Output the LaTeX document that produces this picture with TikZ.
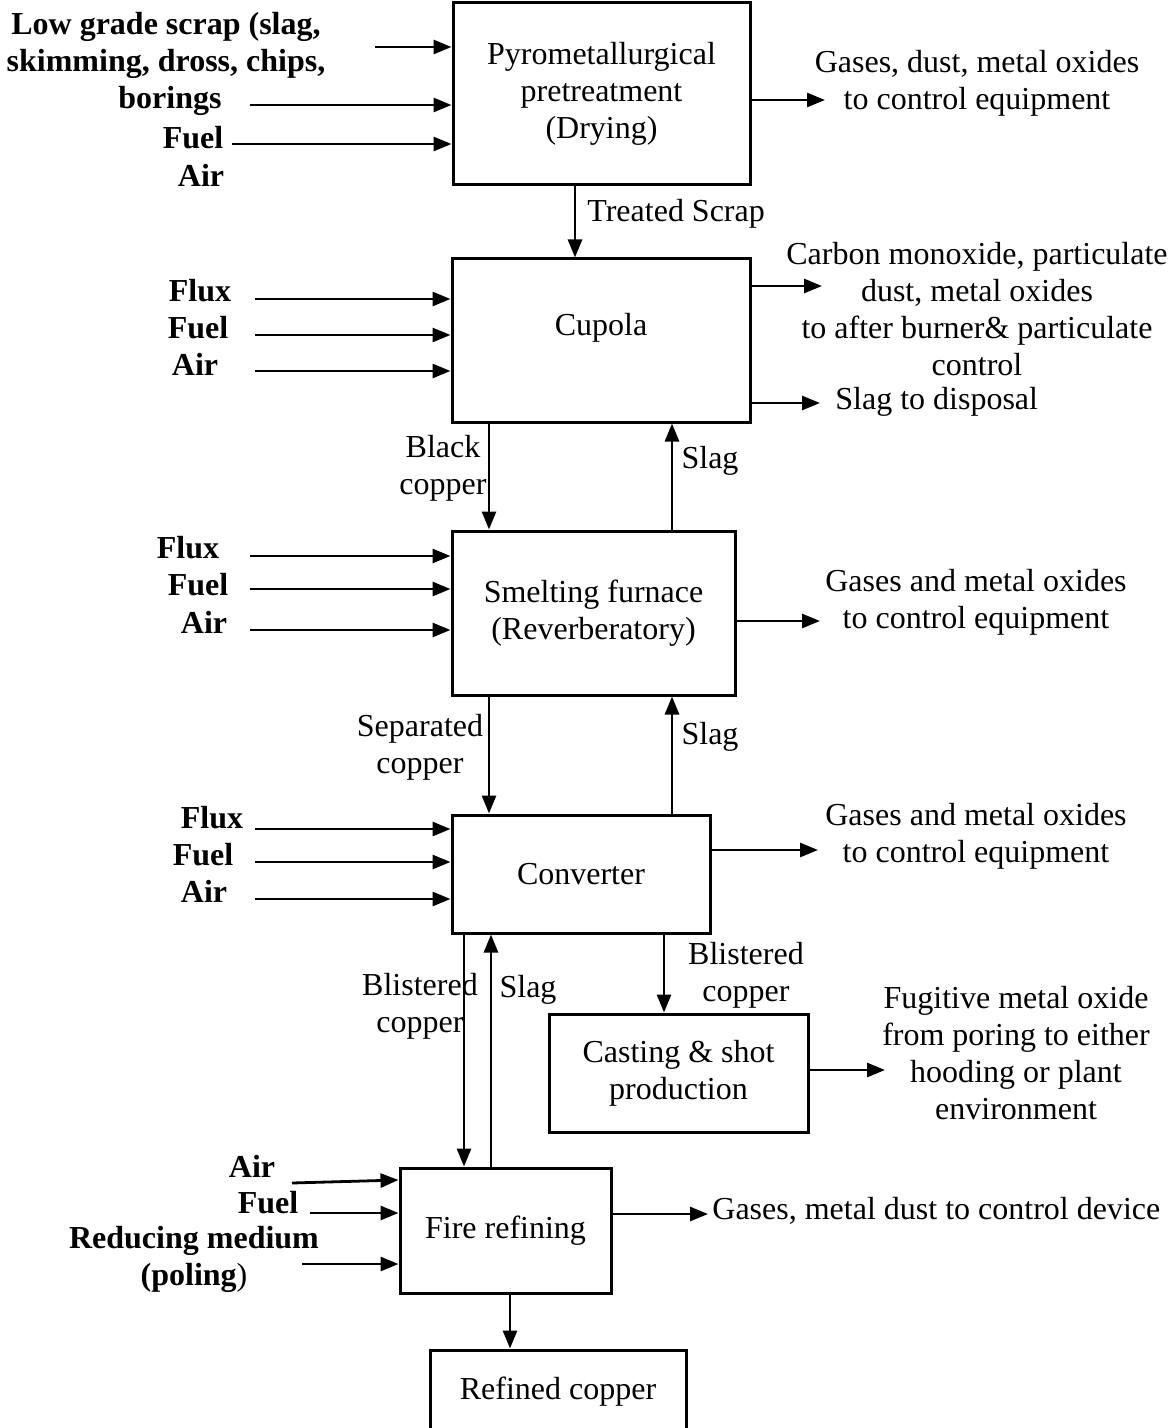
\documentclass[tikz,border=0pt]{standalone}
\usepackage{fontspec}
\setmainfont{Liberation Serif}
\usetikzlibrary{arrows.meta}
\begin{document}
\fontsize{16}{18.5}\selectfont
\begin{tikzpicture}[x=0.5pt,y=-0.5pt,
  box/.style={draw,line width=1.5pt,align=center,inner sep=0pt},
  lab/.style={align=center,inner sep=0pt},
  inlab/.style={lab,font=\bfseries},
  arr/.style={line width=1.4pt,-{Triangle[length=9pt,width=7pt]}}]
\useasboundingbox (0,0) rectangle (1170,1428);
\clip (0,0) rectangle (1170,1428);
\node[box,minimum width=148.5pt,minimum height=91pt] (pyro) at (601.5,94) {Pyrometallurgical\\pretreatment\\(Drying)};
\node[box,minimum width=149pt,minimum height=81.5pt] (cupola) at (601,340.5) {\raisebox{6.5pt}[\height][\depth]{Cupola}};
\node[box,minimum width=141.5pt,minimum height=82pt] (smelt) at (593.5,613) {Smelting furnace\\(Reverberatory)};
\node[box,minimum width=129pt,minimum height=59pt] (conv) at (581,874) {Converter};
\node[box,minimum width=129.5pt,minimum height=59pt] (cast) at (678.5,1073) {Casting \& shot\\production};
\node[box,minimum width=105.5pt,minimum height=62.5pt] (fire) at (505.5,1230.5) {Fire refining};
\node[box,minimum width=128pt,minimum height=42pt] (refined) at (558,1392) {Refined copper};

\node[inlab] (scrap) at (166,45) {Low grade scrap (slag,\\skimming, dross, chips,};
\node[inlab] (borings) at (170,101) {borings};
\node[inlab] (fuela) at (193,138) {Fuel};
\node[inlab] (aira) at (201,175) {Air};
\coordinate (sa) at (375,47);
\coordinate (sb) at (250,105);
\coordinate (sc) at (232,144);
\draw[arr] (sa) -- (sa -| pyro.west);
\draw[arr] (sb) -- (sb -| pyro.west);
\draw[arr] (sc) -- (sc -| pyro.west);
\node[lab] (outa) at (977,83) {Gases, dust, metal oxides\\to control equipment};
\coordinate (oa) at (825,100);
\draw[arr] (oa -| pyro.east) -- (oa);
\coordinate (ts) at (575,0);
\draw[arr] (ts |- pyro.south) -- (ts |- cupola.north);
\node[lab,anchor=west] (treated) at (587,214) {Treated Scrap};

\node[inlab] (fluxb) at (200,291) {Flux};
\node[inlab] (fuelb) at (198,328) {Fuel};
\node[inlab] (airb) at (195,364) {Air};
\foreach \y in {299,335,371}
  \draw[arr] (255,\y) -- (cupola.west |- 0,\y);
\node[lab] (outb) at (977,309) {Carbon monoxide, particulate\\dust, metal oxides\\to after burner\& particulate\\control};
\node[lab,anchor=west] (disposal) at (835,402) {Slag to disposal};
\coordinate (ob) at (822,286);
\coordinate (oc) at (820,403);
\draw[arr] (ob -| cupola.east) -- (ob);
\draw[arr] (oc -| cupola.east) -- (oc);

\coordinate (dn) at (489,0);
\coordinate (up) at (672,0);
\draw[arr] (dn |- cupola.south) -- (dn |- smelt.north);
\draw[arr] (up |- smelt.north) -- (up |- cupola.south);
\node[lab] (black) at (443,468) {Black\\copper};
\node[lab] (slaga) at (710,461) {Slag};

\node[inlab] (fluxc) at (188,548) {Flux};
\node[inlab] (fuelc) at (198,585) {Fuel};
\node[inlab] (airc) at (204,622) {Air};
\foreach \y in {556,589,630}
  \draw[arr] (250,\y) -- (smelt.west |- 0,\y);
\node[lab] (outc) at (976,602) {Gases and metal oxides\\to control equipment};
\coordinate (od) at (820,621);
\draw[arr] (od -| smelt.east) -- (od);

\draw[arr] (dn |- smelt.south) -- (dn |- conv.north);
\draw[arr] (up |- conv.north) -- (up |- smelt.south);
\node[lab] (separated) at (420,747) {Separated\\copper};
\node[lab] (slagb) at (710,737) {Slag};

\node[inlab] (fluxd) at (212,818) {Flux};
\node[inlab] (fueld) at (203,855) {Fuel};
\node[inlab] (aird) at (204,891) {Air};
\foreach \y in {829,862,899}
  \draw[arr] (255,\y) -- (conv.west |- 0,\y);
\node[lab] (outd) at (976,836) {Gases and metal oxides\\to control equipment};
\coordinate (oe) at (818,850);
\draw[arr] (oe -| conv.east) -- (oe);

\coordinate (bc) at (664,0);
\draw[arr] (bc |- conv.south) -- (bc |- cast.north);
\node[lab] (blistera) at (746,975) {Blistered\\copper};
\coordinate (bl) at (464,0);
\coordinate (sl) at (491,0);
\draw[arr] (bl |- conv.south) -- (bl |- fire.north);
\draw[arr] (sl |- fire.north) -- (sl |- conv.south);
\node[lab] (blisterb) at (420,1006) {Blistered\\copper};
\node[lab] (slagc) at (528,990) {Slag};

\node[lab] (oute) at (1016,1053) {Fugitive metal oxide\\from poring to either\\hooding or plant\\environment};
\coordinate (of) at (885,1070);
\draw[arr] (of -| cast.east) -- (of);

\node[inlab] (aire) at (252,1166) {Air};
\node[inlab] (fuele) at (268,1203) {Fuel};
\node[inlab] (reducing) at (194,1259) {Reducing medium\\(poling\textnormal{)}};
\draw[arr] (292,1183) -- (fire.west |- 0,1180);
\draw[arr] (310,1213) -- (fire.west |- 0,1213);
\draw[arr] (302,1264) -- (fire.west |- 0,1264);
\coordinate (og) at (708,1214);
\draw[arr] (og -| fire.east) -- (og);
\node[lab,anchor=west] (outf) at (712,1211) {Gases, metal dust to control device};

\coordinate (rc) at (510,0);
\draw[arr] (rc |- fire.south) -- (rc |- refined.north);
\end{tikzpicture}
\end{document}
